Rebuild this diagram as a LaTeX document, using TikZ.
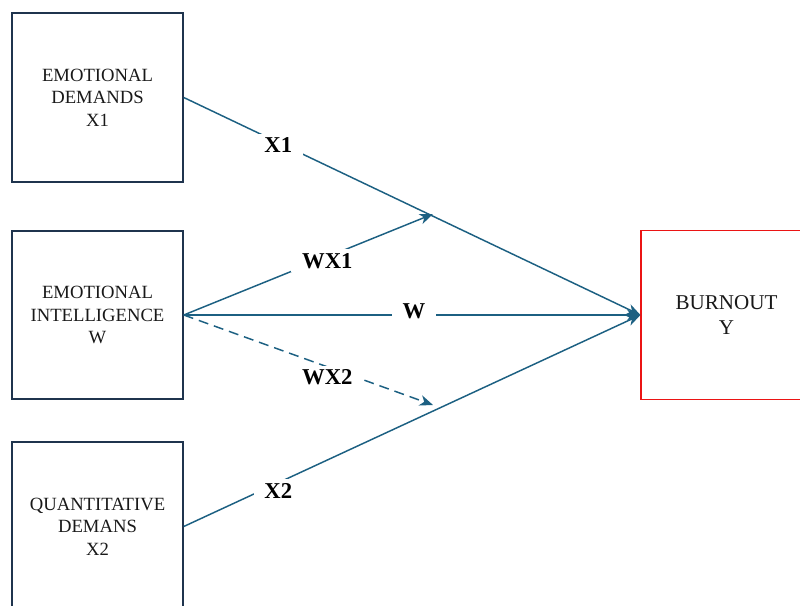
\documentclass[tikz,border=0pt]{standalone}
\usepackage{fontspec}
\setmainfont{Liberation Serif}
\usetikzlibrary{arrows.meta}
\definecolor{boxc}{RGB}{31,52,78}
\definecolor{arrc}{RGB}{28,96,130}
\definecolor{redc}{RGB}{235,20,20}
\definecolor{txt}{RGB}{25,25,25}
\tikzset{
  var/.style={draw=boxc, line width=1.4pt, minimum width=128pt, minimum height=126.5pt,
    inner sep=0pt, align=center, text=txt, font=\fontsize{14}{16.9}\selectfont},
  outc/.style={var, draw=redc, line width=1.1pt, font=\fontsize{15.8}{18.8}\selectfont},
  arr/.style={draw=arrc, line width=1.1pt, -{Stealth[length=10pt,width=8pt,inset=3pt]}},
  dsh/.style={arr, dash pattern=on 7.5pt off 4.5pt},
  lab/.style={fill=white, inner xsep=8pt, inner ysep=3pt, text=black,
    font=\fontsize{17}{20}\selectfont\bfseries},
}
\begin{document}
\begin{tikzpicture}[x=0.75pt, y=-0.75pt]
\useasboundingbox (0,0) rectangle (800,606);
\clip (0,0) rectangle (800,606);
\fill[white] (0,0) rectangle (800,606);
\node[var] (ed) at (97.5,97.5) {EMOTIONAL\\DEMANDS\\X1};
\node[var] (ei) at (97.5,315) {EMOTIONAL\\INTELLIGENCE\\W};
\node[var] (qd) at (97.5,526.5) {QUANTITATIVE\\DEMANS\\X2};
\node[outc] (bo) at (726.5,315) {BURNOUT\\Y};
\coordinate (c1) at (433,214);
\coordinate (c2) at (433,405);
\draw[arr] (ed.east) -- node[lab, pos=0.207, yshift=-2pt] {X1} (bo.west);
\draw[arr] (qd.east) -- node[lab, pos=0.207, yshift=-6pt] {X2} (bo.west);
\draw[arr] (ei.east) -- node[lab, pos=0.504, yshift=3pt] {W} (bo.west);
\draw[arr] (ei.east) -- node[lab, pos=0.576, yshift=-3pt] {WX1} (c1);
\draw[dsh] (ei.east) -- node[lab, pos=0.576, yshift=-8pt] {WX2} (c2);
\end{tikzpicture}
\end{document}
